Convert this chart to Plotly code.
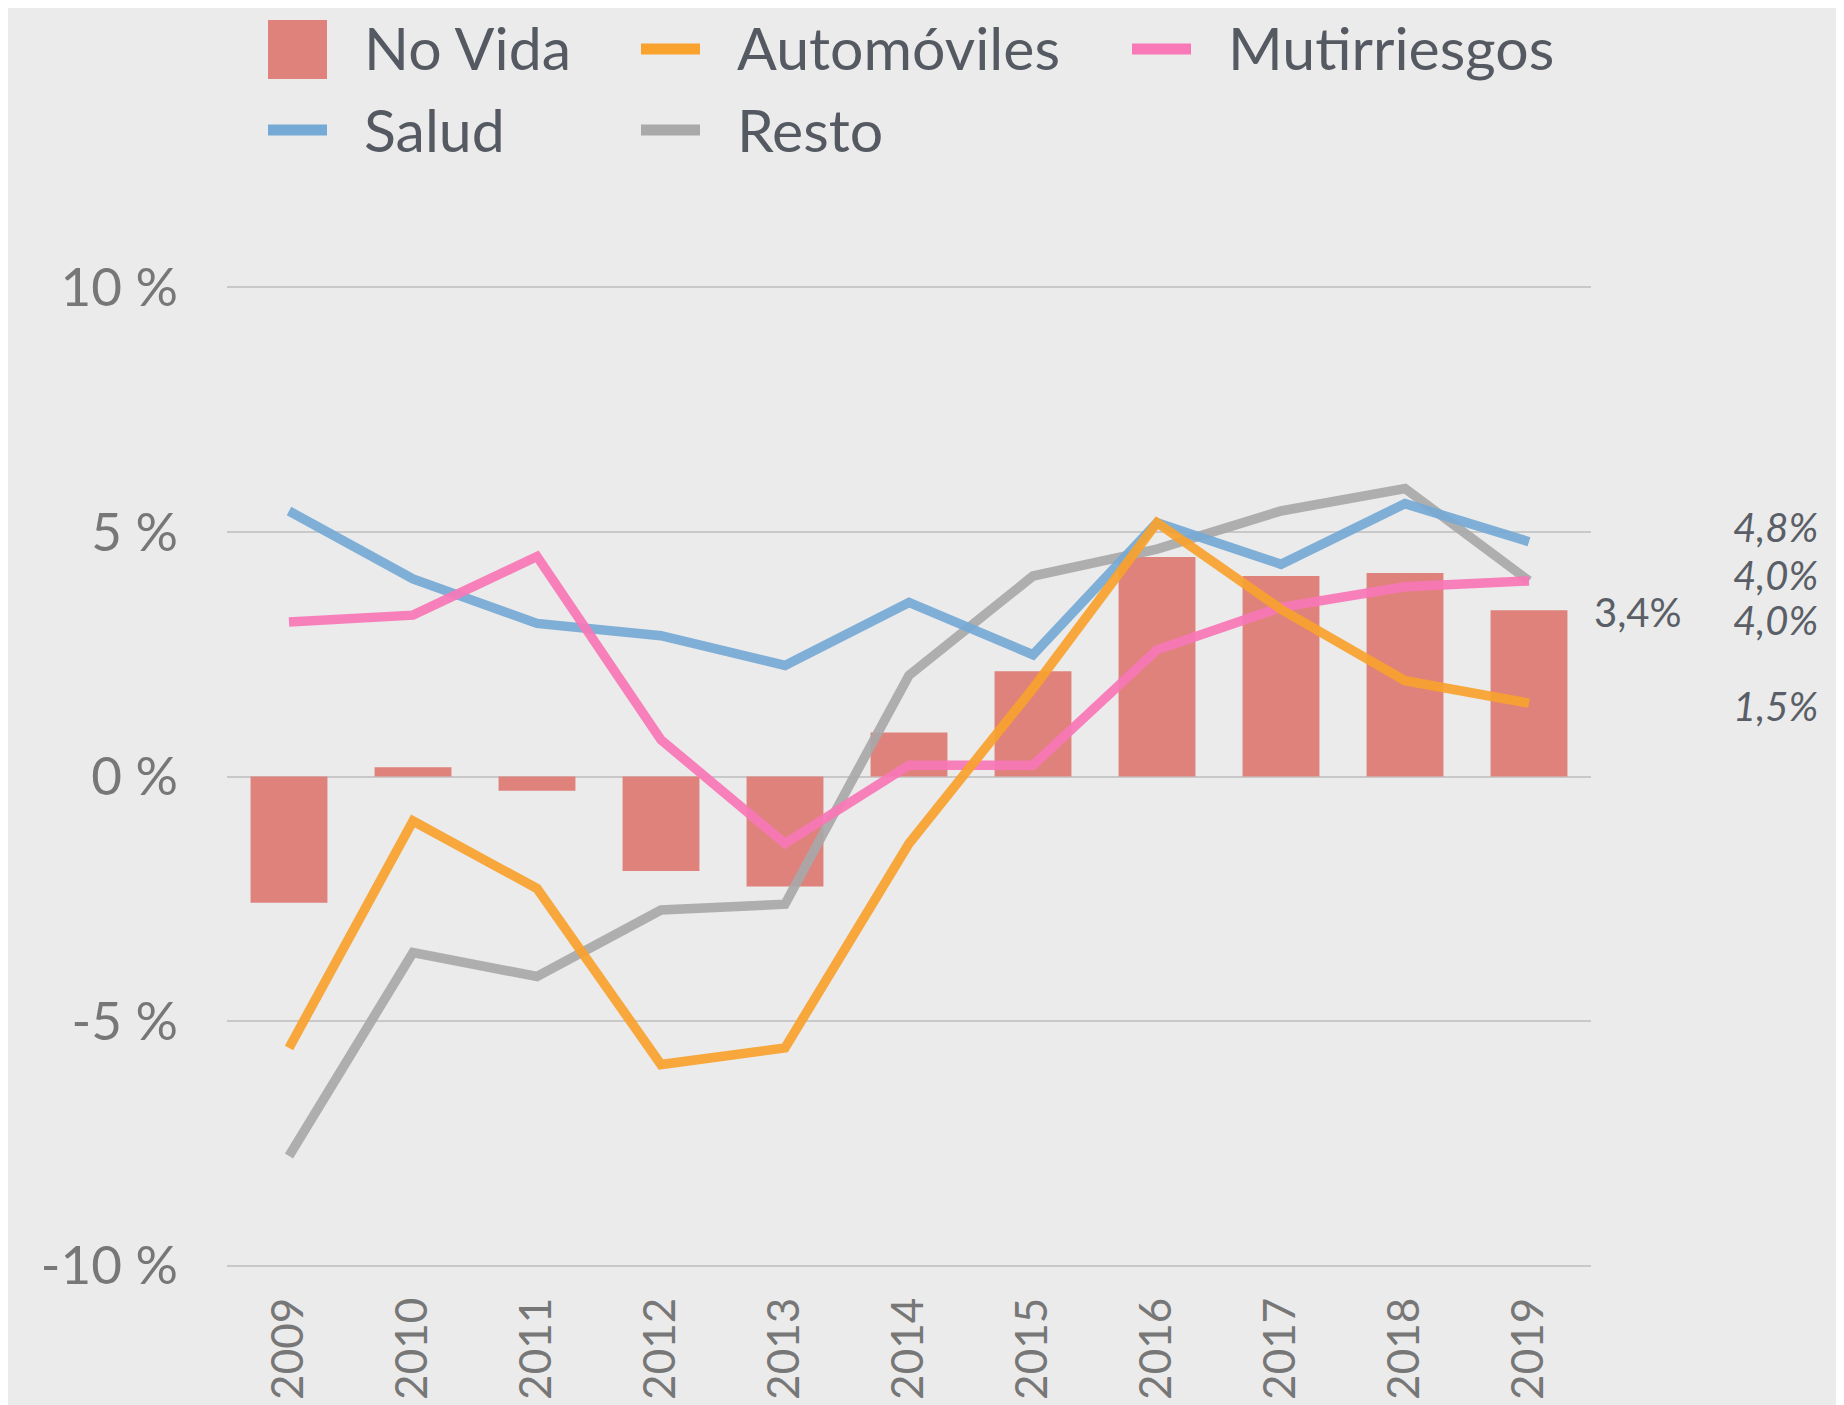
import plotly.graph_objects as go

years = ["2009", "2010", "2011", "2012", "2013", "2014", "2015", "2016", "2017", "2018", "2019"]
no_vida = [-2.58, 0.19, -0.29, -1.93, -2.25, 0.90, 2.15, 4.49, 4.10, 4.16, 3.4]
salud = [5.43, 4.04, 3.13, 2.88, 2.27, 3.56, 2.49, 5.19, 4.34, 5.58, 4.8]
automoviles = [-5.55, -0.91, -2.29, -5.89, -5.55, -1.37, 1.8, 5.19, 3.42, 1.96, 1.5]
multirriesgos = [3.16, 3.3, 4.5, 0.75, -1.37, 0.23, 0.23, 2.59, 3.46, 3.88, 4.0]
resto = [-7.76, -3.6, -4.09, -2.73, -2.61, 2.07, 4.10, 4.65, 5.43, 5.89, 4.0]
y_ticks = [-10, -5, 0, 5, 10]
y_tick_text = ["-10 %", "-5 %", "0 %", "5 %", "10 %"]

OFF = 8  # page body margin
W, H = 1844 - OFF, 1405 - OFF
L, R, T, B = 227 - OFF, 1591 - OFF, 286 - OFF, 1267 - OFF
YR = [-10.03, 10.03]

C_BAR = "#df827b"
C_AUTO = "#f9a22e"
C_SALUD = "#76aad6"
C_RESTO = "#a9a9a9"
C_MULTI = "#f978b8"
BG = "#ebebeb"
FONT = "Lato"

fig = go.Figure()
fig.add_trace(go.Bar(x=years, y=no_vida, name="No Vida", marker_color=C_BAR,
                     marker_line_width=0, width=0.62, showlegend=False))
for name, vals, col in [("Resto", resto, C_RESTO), ("Salud", salud, C_SALUD),
                        ("Mutirriesgos", multirriesgos, C_MULTI), ("Automóviles", automoviles, C_AUTO)]:
    fig.add_trace(go.Scatter(x=years, y=vals, name=name, mode="lines",
                             line=dict(color=col, width=9.5), opacity=0.92, showlegend=False))


def px(x):
    return (x - OFF - L) / (R - L)


def py(y):
    return (B - (y - OFF)) / (B - T)


shapes = []
annots = []
legend = [
    ("No Vida", C_BAR, "bar", 268, 362, 49),
    ("Automóviles", C_AUTO, "line", 641, 735, 49),
    ("Mutirriesgos", C_MULTI, "line", 1132, 1226, 49),
    ("Salud", C_SALUD, "line", 268, 362, 130),
    ("Resto", C_RESTO, "line", 641, 735, 130),
]
for text, col, kind, sx, tx, cy in legend:
    if kind == "bar":
        y0, y1 = cy - 29, cy + 30
    else:
        y0, y1 = cy - 5.5, cy + 5.5
    shapes.append(dict(type="rect", xref="paper", yref="paper",
                       x0=px(sx), x1=px(sx + 59), y0=py(y1), y1=py(y0),
                       fillcolor=col, line_width=0, layer="above"))
    annots.append(dict(text=text, xref="paper", yref="paper", x=px(tx), y=py(cy - 1),
                       xanchor="left", yanchor="middle", showarrow=False,
                       font=dict(family=FONT, size=59, color="#555961")))


def fmt(v):
    return f"{v:.1f}".replace(".", ",") + "%"


annots.append(dict(text=fmt(no_vida[-1]), xref="paper", yref="y", x=px(1638), y=no_vida[-1],
                   yshift=-2, xanchor="center", yanchor="middle", showarrow=False,
                   font=dict(family=FONT, size=40, color="#5a5e66")))
for vals, shift in [(salud, 15), (resto, 6), (multirriesgos, -39), (automoviles, -3)]:
    annots.append(dict(text="<i>" + fmt(vals[-1]) + "</i>", xref="paper", yref="y", x=px(1820),
                       y=vals[-1], yshift=shift, xanchor="right", yanchor="middle", showarrow=False,
                       font=dict(family=FONT, size=40, color="#5a5e66")))

fig.update_layout(
    width=W, height=H,
    margin=dict(l=L, r=W - R, t=T, b=H - B, pad=0, autoexpand=False),
    paper_bgcolor=BG, plot_bgcolor=BG,
    showlegend=False,
    bargap=0.38,
    shapes=shapes, annotations=annots,
    font=dict(family=FONT, color="#777777"),
)
fig.update_xaxes(range=[-0.5, 10.5], tickangle=-90, showgrid=False, zeroline=False,
                 showline=False, ticks="", tickfont=dict(family=FONT, size=44, color="#777777"),
                 ticklabelstandoff=21, automargin=False)
fig.update_yaxes(range=YR, tickvals=y_ticks, ticktext=y_tick_text,
                 showgrid=True, gridcolor="#c8c8c8", gridwidth=1.5,
                 zeroline=True, zerolinecolor="#c8c8c8", zerolinewidth=1.5,
                 showline=False, ticks="", tickfont=dict(family=FONT, size=53, color="#777777"),
                 ticklabelstandoff=48, automargin=False)

fig.write_html("out.html")
